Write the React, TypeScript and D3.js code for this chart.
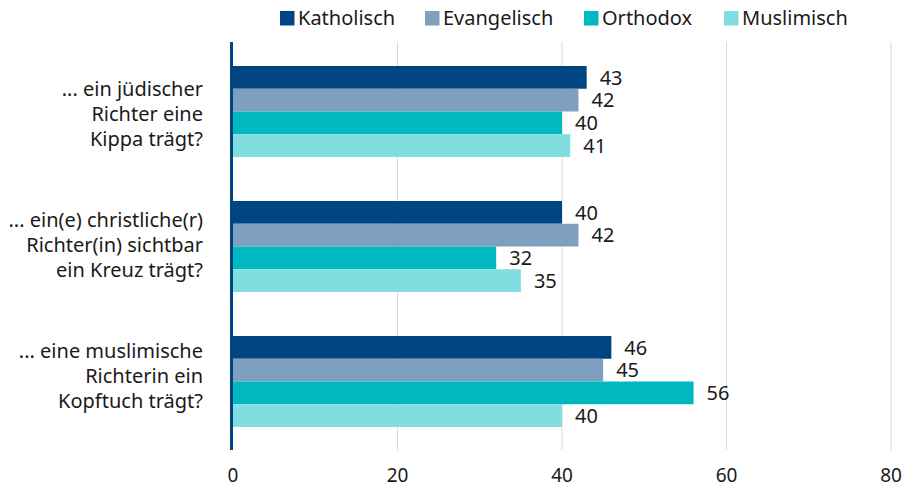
import { useEffect, useRef } from 'react';
import * as d3 from 'd3';

const questions = [
  ['... ein jüdischer', 'Richter eine', 'Kippa trägt?'],
  ['... ein(e) christliche(r)', 'Richter(in) sichtbar', 'ein Kreuz trägt?'],
  ['... eine muslimische', 'Richterin ein', 'Kopftuch trägt?'],
];
const seriesNames = ['Katholisch', 'Evangelisch', 'Orthodox', 'Muslimisch'];
const seriesColors = ['#004582', '#7f9fc0', '#00b8bf', '#80dde0'];
const katholisch = [43, 40, 46];
const evangelisch = [42, 42, 45];
const orthodox = [40, 32, 56];
const muslimisch = [41, 35, 40];
const xTicks = [0, 20, 40, 60, 80];

const width = 902;
const height = 488;
const font = '"Noto Sans", "Open Sans", sans-serif';
const textColor = '#1a1a1a';

function App() {
  const svgRef = useRef<SVGSVGElement | null>(null);

  useEffect(() => {
    const svg = d3.select(svgRef.current);
    svg.selectAll('*').remove();

    const values = [katholisch, evangelisch, orthodox, muslimisch];
    const groups = questions.map((_, i) => i.toString());

    const x = d3.scaleLinear().domain([0, 80]).range([233, 891]);
    const y = d3.scaleBand().domain(groups).range([44, 449]).paddingInner(0.326).paddingOuter(0.163);
    const ySub = d3.scaleBand().domain(seriesNames).range([0, y.bandwidth()]);
    // the category labels sit on a slightly tighter pitch than the bars
    const yLabel = d3.scalePoint().domain(groups).range([121, 383]);

    // grid
    svg
      .append('g')
      .selectAll('line')
      .data(xTicks.slice(1))
      .enter()
      .append('line')
      .attr('x1', (d) => x(d))
      .attr('x2', (d) => x(d))
      .attr('y1', 42)
      .attr('y2', 450)
      .attr('stroke', '#d9d9d9')
      .attr('stroke-width', 1);

    // bars + value labels
    const g = svg.append('g');
    groups.forEach((grp, gi) => {
      seriesNames.forEach((s, si) => {
        const v = values[si][gi];
        const yy = (y(grp) as number) + (ySub(s) as number);
        g.append('rect')
          .attr('x', x(0))
          .attr('y', yy)
          .attr('width', x(v) - x(0))
          .attr('height', ySub.bandwidth())
          .attr('fill', seriesColors[si]);
        g.append('text')
          .attr('x', x(v) + 13)
          .attr('y', yy + ySub.bandwidth() / 2)
          .attr('dy', '0.36em')
          .attr('font-family', font)
          .attr('font-size', 20)
          .attr('fill', textColor)
          .text(v);
      });
    });

    // axis line
    svg
      .append('line')
      .attr('x1', 231.5)
      .attr('x2', 231.5)
      .attr('y1', 42)
      .attr('y2', 450)
      .attr('stroke', '#004582')
      .attr('stroke-width', 3);

    // category labels
    questions.forEach((lines, gi) => {
      const base = yLabel(gi.toString()) as number;
      const t = svg
        .append('text')
        .attr('text-anchor', 'end')
        .attr('font-family', font)
        .attr('font-size', 20)
        .attr('fill', textColor);
      lines.forEach((line, li) => {
        t.append('tspan')
          .attr('x', 203)
          .attr('y', base + (li - 1) * 25)
          .text(line);
      });
    });

    // tick labels
    svg
      .append('g')
      .selectAll('text')
      .data(xTicks)
      .enter()
      .append('text')
      .attr('x', (d) => x(d))
      .attr('y', 475)
      .attr('dy', '0.36em')
      .attr('text-anchor', 'middle')
      .attr('font-family', font)
      .attr('font-size', 19)
      .attr('fill', textColor)
      .text((d) => d);

    // legend
    const legendX = [280, 425, 584, 724];
    seriesNames.forEach((s, i) => {
      svg
        .append('rect')
        .attr('x', legendX[i])
        .attr('y', 11)
        .attr('width', 14.5)
        .attr('height', 14.5)
        .attr('fill', seriesColors[i]);
      svg
        .append('text')
        .attr('x', legendX[i] + 18)
        .attr('y', 18)
        .attr('dy', '0.36em')
        .attr('font-family', font)
        .attr('font-size', 20)
        .attr('fill', textColor)
        .text(s);
    });
  }, []);

  return (
    <svg
      ref={svgRef}
      width={width}
      height={height}
      style={{ position: 'absolute', left: 0, top: 0 }}
    />
  );
}

export default App;
